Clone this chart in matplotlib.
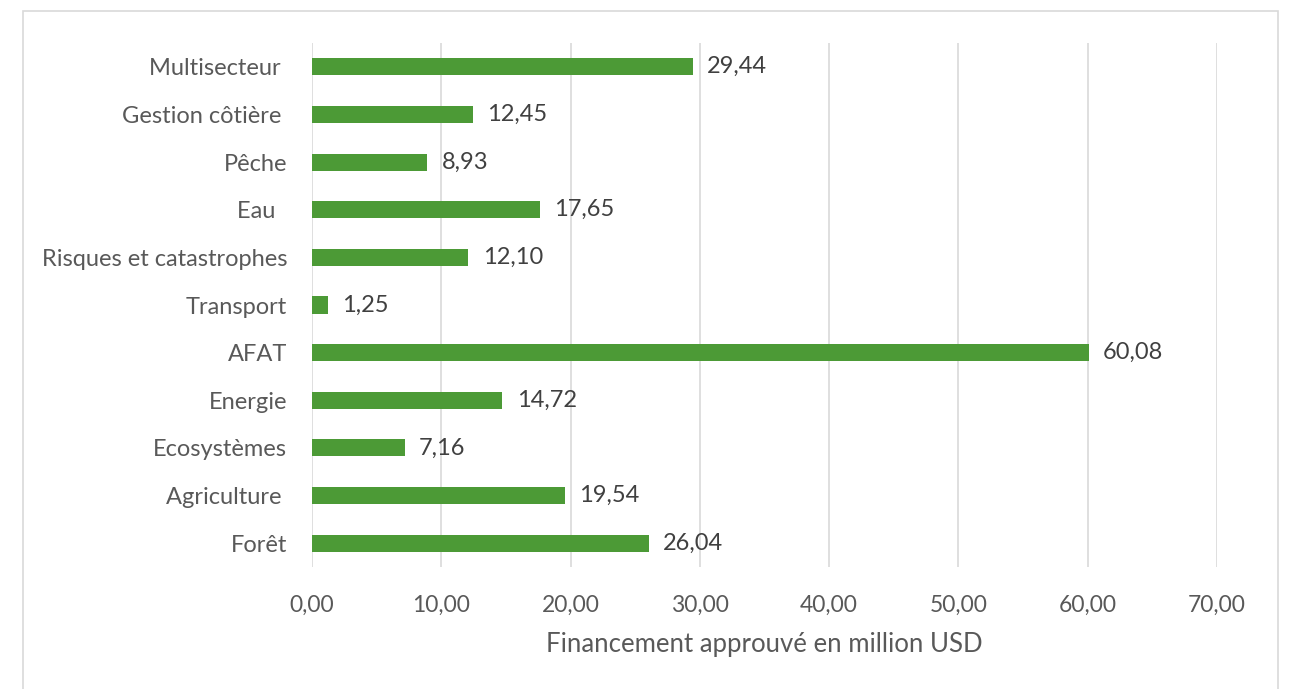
import matplotlib
matplotlib.use("Agg")
import matplotlib.pyplot as plt
from matplotlib.patches import Rectangle

# approved funding by sector (million USD)
sectors = ['Multisecteur ', 'Gestion côtière ', 'Pêche', 'Eau  ', 'Risques et catastrophes',
           'Transport', 'AFAT', 'Energie', 'Ecosystèmes', 'Agriculture ', 'Forêt']
funding = [29.44, 12.45, 8.93, 17.65, 12.10, 1.25, 60.08, 14.72, 7.16, 19.54, 26.04]
xticks = [0, 10, 20, 30, 40, 50, 60, 70]

plt.rcParams['font.family'] = ['Lato', 'DejaVu Sans']
grey = '#595959'
green = '#4C9A36'

fig = plt.figure(figsize=(12.9, 6.89), dpi=100)
# light chart frame
fig.patches.append(Rectangle((23 / 1290, -0.01), 1255 / 1290, 1 - 11 / 689 + 0.01,
                             transform=fig.transFigure, fill=False,
                             edgecolor='#d9d9d9', linewidth=1.2))

ax = fig.add_axes([312 / 1290, 1 - 567 / 689, (1217 - 312) / 1290, (567 - 43) / 689])
pos = list(range(len(sectors)))[::-1]
ax.barh(pos, funding, height=0.36, color=green, zorder=3)
for y, v in zip(pos, funding):
    ax.text(v + 1.1, y, f'{v:.2f}'.replace('.', ','), va='center', ha='left',
            fontsize=17, color='#404040')

ax.set_xlim(0, 70)
ax.set_ylim(-0.5, len(sectors) - 0.5)
ax.set_xticks(xticks)
ax.set_xticklabels([f'{t:.2f}'.replace('.', ',') for t in xticks], fontsize=16.5, color=grey)
ax.set_yticks(pos)
ax.set_yticklabels(sectors, fontsize=17, color=grey)
ax.tick_params(axis='both', length=0)
ax.tick_params(axis='x', pad=20)
ax.tick_params(axis='y', pad=18)
ax.grid(axis='x', color='#d9d9d9', linewidth=1.2, zorder=0)
for s in ax.spines.values():
    s.set_visible(False)
ax.set_xlabel('Financement approuvé en million USD', fontsize=18.5, color=grey, labelpad=12)

fig.savefig('out.png', dpi=100)
